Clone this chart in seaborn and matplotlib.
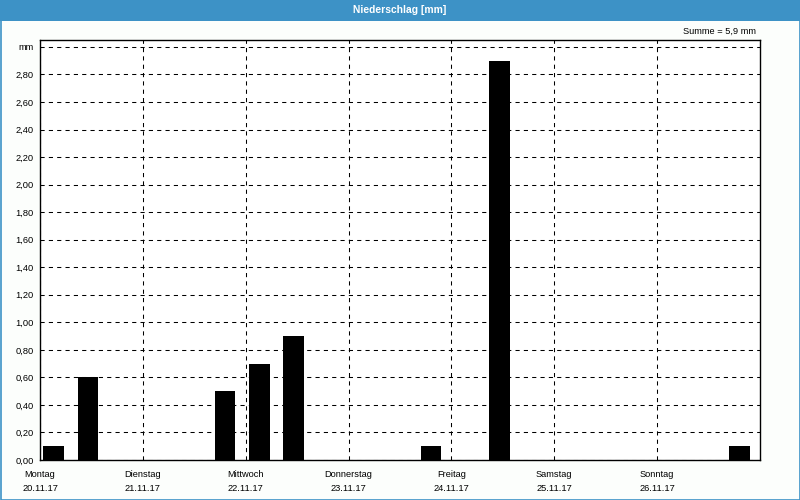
import matplotlib
matplotlib.use("Agg")
import matplotlib.pyplot as plt
from matplotlib.patches import Rectangle
import numpy as np
import pandas as pd
import seaborn as sns

# ---- data ----
days = ["Montag", "Dienstag", "Mittwoch", "Donnerstag", "Freitag", "Samstag", "Sonntag"]
dates = ["20.11.17", "21.11.17", "22.11.17", "23.11.17", "24.11.17", "25.11.17", "26.11.17"]
# precipitation per 8-hour slot (3 slots per day), mm
precip = [0.1, 0.6, 0.0,
          0.0, 0.0, 0.5,
          0.7, 0.9, 0.0,
          0.0, 0.0, 0.1,
          0.0, 2.9, 0.0,
          0.0, 0.0, 0.0,
          0.0, 0.0, 0.1]
y_ticks = [0.0, 0.2, 0.4, 0.6, 0.8, 1.0, 1.2, 1.4, 1.6, 1.8, 2.0, 2.2, 2.4, 2.6, 2.8, 3.0]
title = "Niederschlag [mm]"
unit = "mm"
total_text = "Summe = 5,9 mm"

slots = list(range(len(precip)))
df = pd.DataFrame({"slot": slots, "mm": precip})

sns.set_theme(style="white")
plt.rcParams["font.family"] = ["Liberation Sans", "DejaVu Sans"]
FS = 6.7
BG = "#fcfefc"
BLUE = "#3d92c6"

fig = plt.figure(figsize=(8, 5), dpi=100, facecolor=BG)
ax = fig.add_axes([40 / 800, 40 / 500, 720 / 800, 420 / 500])
ax.set_facecolor("white")

sns.barplot(data=df, x="slot", y="mm", color="black", width=0.6,
            native_scale=True, linewidth=0, saturation=1, ax=ax, zorder=3)

ax.set_xlim(-0.4, len(precip) - 0.4)
ax.set_ylim(0, 3.05)

# y axis
ax.set_yticks(y_ticks)
ylabels = [f"{v:.2f}".replace(".", ",") for v in y_ticks]
ylabels[-1] = unit
ax.set_yticklabels(ylabels, fontsize=FS, color="black")

# x axis: day boundaries
day_pos = [-0.4 + 3 * k for k in range(len(days))]
ax.set_xticks(day_pos)
ax.set_xticklabels(days, fontsize=FS, color="black")
for p, d in zip(day_pos, dates):
    ax.text(p, -0.069, d, transform=ax.get_xaxis_transform(), ha="center", va="center",
            fontsize=FS, color="black")

ax.tick_params(axis="both", length=2.5, width=0.8, color="black", pad=2, direction="out")
ax.tick_params(axis="x", pad=5)
ax.set_xlabel("")
ax.set_ylabel("")

ax.grid(True, which="major", color="black", linestyle=(0, (4, 4)), linewidth=0.75)
ax.set_axisbelow(True)
for s in ax.spines.values():
    s.set_color("black")
    s.set_linewidth(1.0)
    s.set_visible(True)

# header bar and frame
fig.patches.append(Rectangle((0, 1 - 21 / 500), 1, 21 / 500, transform=fig.transFigure,
                             facecolor=BLUE, edgecolor="none", zorder=0))
fig.patches.append(Rectangle((0.5 / 800, 0.5 / 500), 799 / 800, 499 / 500, transform=fig.transFigure,
                             facecolor="none", edgecolor=BLUE, linewidth=1.2, zorder=5))
fig.text(0.5, 1 - 10 / 500, title, ha="center", va="center", color="white",
         fontsize=7.4, fontweight="bold")
fig.text(756 / 800, 1 - 31 / 500, total_text, ha="right", va="center",
         color="black", fontsize=FS)

fig.savefig("out.png", dpi=100, facecolor=BG)
